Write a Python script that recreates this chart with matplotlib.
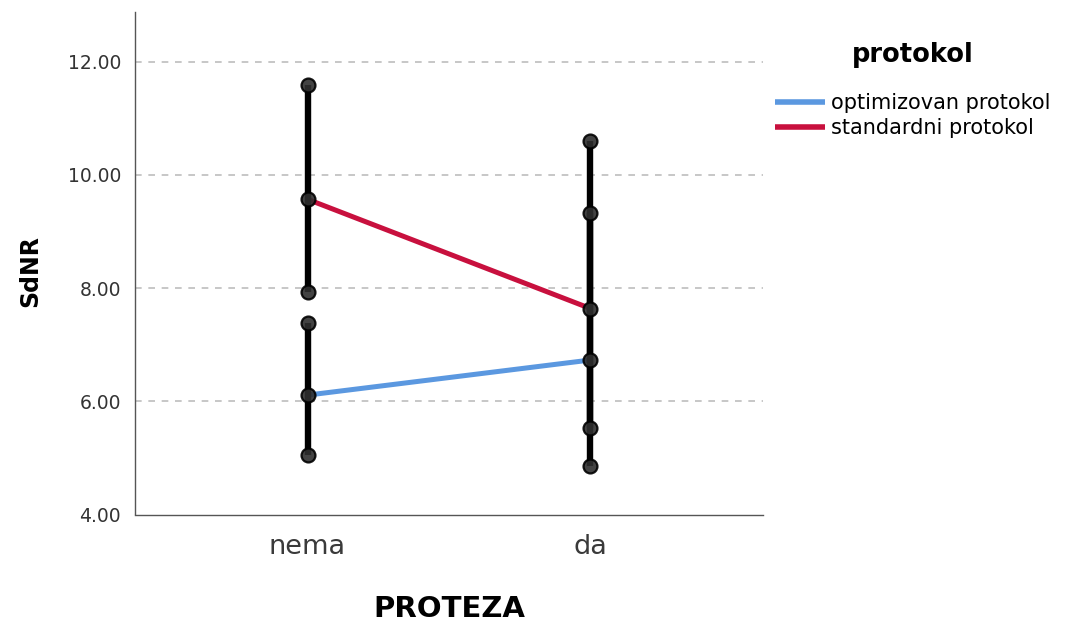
import matplotlib
matplotlib.use("Agg")
import matplotlib.pyplot as plt

# Group categories on the x axis
categories = ["nema", "da"]
series_names = ["optimizovan protokol", "standardni protokol"]

# Mean SdNR per group with interval bounds
opt_mean = [6.11, 6.73]
opt_low = [5.05, 5.52]
opt_high = [7.39, 9.33]

std_mean = [9.57, 7.64]
std_low = [7.93, 4.86]
std_high = [11.59, 10.60]

yticks = [4, 6, 8, 10, 12]
ytick_labels = ["4.00", "6.00", "8.00", "10.00", "12.00"]

colors = ["#5b98e0", "#c8103e"]

fig = plt.figure(figsize=(10.70, 6.24), dpi=100)
ax = fig.add_axes([135 / 1070, 1 - 514.5 / 624, (763 - 135) / 1070, (514.5 - 12) / 624])

x = list(range(len(categories)))

# mean lines per protocol
for means, col, name in [(opt_mean, colors[0], series_names[0]),
                         (std_mean, colors[1], series_names[1])]:
    ax.plot(x, means, color=col, lw=3.6, solid_capstyle="butt", zorder=3, label=name)

# interval bars with markers at bounds and mean
for means, lows, highs in [(opt_mean, opt_low, opt_high), (std_mean, std_low, std_high)]:
    ax.vlines(x, lows, highs, color="black", lw=4.6, zorder=4)
    for vals in (lows, means, highs):
        ax.plot(x, vals, ls="none", marker="o", ms=10, mfc="#2e2e2e",
                mec="black", mew=1.6, alpha=0.9, zorder=5)

ax.set_xlim(-0.61, 1.61)
ax.set_ylim(4, 12.88)
ax.set_xticks(x)
ax.set_xticklabels(categories, fontsize=19.5, color="#3a3a3a")
ax.set_yticks(yticks)
ax.set_yticklabels(ytick_labels, fontsize=13.5, color="#333333")
ax.tick_params(axis="both", length=0)
ax.tick_params(axis="x", pad=14)
ax.tick_params(axis="y", pad=10)

for yv in yticks[1:]:
    ax.axhline(yv, color="#bdbdbd", lw=1.2, ls=(0, (4, 4)), zorder=1)

for side in ("top", "right"):
    ax.spines[side].set_visible(False)
for side in ("left", "bottom"):
    ax.spines[side].set_color("#555555")
    ax.spines[side].set_linewidth(1.0)

fig.text(30 / 1070, 1 - 271 / 624, "SdNR", rotation=90, fontsize=17, fontweight="bold",
         ha="center", va="center")
fig.text(449 / 1070, 1 - 609 / 624, "PROTEZA", fontsize=21, fontweight="bold",
         ha="center", va="center")

leg = ax.legend(loc="upper left", bbox_to_anchor=(775 / 1070, 1 - 42 / 624),
                bbox_transform=fig.transFigure, frameon=False, borderpad=0,
                borderaxespad=0, handlelength=2.4, handletextpad=0.3,
                labelspacing=0.25, fontsize=15, title="protokol",
                title_fontproperties={"weight": "bold", "size": 18.5})
leg._legend_box.sep = 18
for line in leg.get_lines():
    line.set_linewidth(4)

fig.savefig("out.png", dpi=100)
